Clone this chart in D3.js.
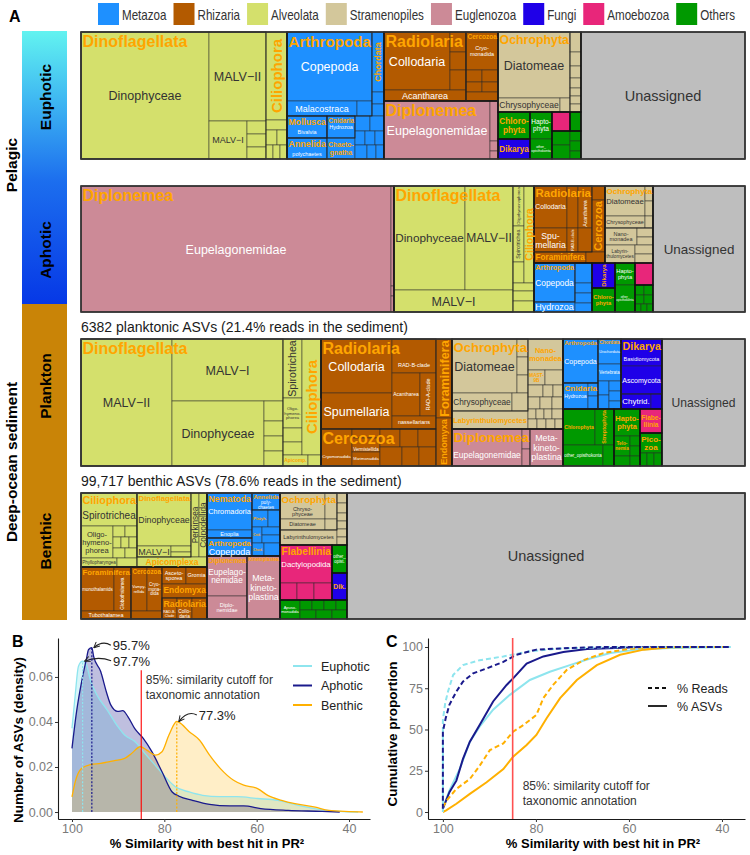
<!DOCTYPE html>
<html><head><meta charset="utf-8">
<script src="https://cdn.jsdelivr.net/npm/d3@7"></script>
<style>body{margin:0;background:#fff}svg{display:block}</style>
</head><body><svg id="c" width="750" height="855"></svg>
<script>
// ---------------- DATA ----------------
const groupNames = ["Metazoa","Rhizaria","Alveolata","Stramenopiles","Euglenozoa","Fungi","Amoebozoa","Others"];
const groupColors = ["#1E90FF","#B35A00","#D4E06C","#D3C79B","#CC8A97","#1F00E8","#E8267A","#009900"];
const unassignedColor = "#BEBEBE";

function L(n, v, k, g){ return {n, value:v, k, g}; }
function N(dir, children, n, k, g){ return {dir, children, n, k, g}; }
function T(...vals){ return vals.map(v => L("", v)); }

// treemap leaves: values = relative read share of each taxon
const euphotic = N('x', [
  N('x', [
    N('x', [
      L("Dinophyceae", 16256, "C"),
      N('y', [ L("MALV−II", 5073, "C"), N('x', [L("MALV−I", 1444, "c"), N('y', T(247,247,228))]) ])
    ], "Dinoflagellata", "P"),
    N('y', [ L("Ciliophora", 1848, "V"), L("", 210), N('x', T(165,150)), N('x', T(98,98,98)) ])
  ], "", null, "Alveolata"),
  N('y', [
    N('x', [
      N('y', [L("Copepoda", 5865, "C"), N('x', [L("Malacostraca", 1050, "c"), L("", 225)])], "Arthropoda", "P"),
      N('y', [L("Chordata", 720, "vO"), ...T(144,144)])
    ]),
    N('x', [
      N('y', [N('y', [L("Bivalvia", 880, "s")], "Mollusca", "P"), N('y', [L("polychaetes", 840, "s")], "Annelida", "P")]),
      N('y', [N('y', [L("Hydrozoa", 616, "s")], "Cnidaria", "P"), L("Chaeto-|gnatha", 588, "O")]),
      N('y', [N('x', T(225,210)), N('x', T(140,140,126)), N('x', T(168,126,112))])
    ])
  ], "", null, "Metazoa"),
  N('x', [
    N('y', [
      N('x', [
        N('y', [N('x', [L("Collodaria", 3828, "C"), N('y', T(320,288,320))]), L("Acantharea", 902, "c")], "Radiolaria", "P"),
        N('y', [L("Cryo-|monadida", 1216, "s"), N('x', T(192,192)), N('x', T(160,160)), L("", 288)], "Cercozoa", "P")
      ], "", null, "Rhizaria"),
      N('x', [L("Eupelagonemidae", 6148, "C"), N('y', T(320,80,64))], "Diplonemea", "P", "Euglenozoa")
    ]),
    N('y', [
      N('x', [
        N('y', [L("Diatomeae", 4752, "C"), N('x', [L("Chrysophyceae", 868, "c"), L("", 140)])], "Ochrophyta", "P"),
        N('y', T(220,154,132,110,88,88,88))
      ], "", null, "Stramenopiles"),
      N('x', [
        N('y', [L("Chloro-|phyta", 864, "O", "Others"), L("Dikarya", 640, "O", "Fungi")]),
        N('y', [L("Hapto-|phyta", 594, "c"), L("other_|opisthokonta", 440, "s")], "", null, "Others"),
        N('y', [
          N('x', [L("", 342, null, "Amoebozoa"), L("", 209, null, "Others")]),
          N('x', [N('y', T(252,252)), N('y', T(110,110,88))], "", null, "Others")
        ])
      ])
    ])
  ]),
  L("Unassigned", 20828, "U", "Unassigned")
]);

const aphotic = N('x', [
  N('x', [L("Eupelagonemidae", 39060, "C"), N('y', T(300,30,48))], "Diplonemea", "P", "Euglenozoa"),
  N('x', [
    N('y', [N('x', [L("Dinophyceae", 7384, "C"), L("MALV−II", 4992, "C")]), L("MALV−I", 2618, "C")], "Dinoflagellata", "P"),
    N('y', [
      N('x', [N('y', [L("Oligohymenophorea", 440, "vs"), L("Spirotrichea", 396, "vs"), L("Colpodea", 231, "s")]), L("Ciliophora", 970, "V")]),
      ...T(168,210,231)
    ])
  ], "", null, "Alveolata"),
  N('y', [
    N('x', [
      N('y', [
        N('x', [
          N('x', [
            N('y', [L("Collodaria", 1386, "c"), L("Spu-|mellaria", 792, "c")]),
            N('y', [L("", 462), L("RAD-B-clade", 264, "vs")]),
            N('y', [L("Acantharea", 588, "vs"), L("nassellarians", 336, "s")])
          ], "Radiolaria", "P"),
          N('y', [L("Cryomonadida", 182, "s"), L("Cercozoa", 676, "V")])
        ]),
        N('x', [L("Foraminifera", 572, "P"), L("", 209)])
      ], "", null, "Rhizaria"),
      N('y', [
        N('y', [N('x', [L("Diatomeae", 1200, "c"), N('y', T(120,120))]), N('x', [L("Chrysophyceae", 480, "s"), L("", 96)])], "Ochrophyta", "P"),
        N('x', [L("Nano-|monadea", 544, "s"), N('y', T(144,128))]),
        N('x', [L("Labyrin-|thulomycetes", 540, "s"), N('y', T(162,162))])
      ], "", null, "Stramenopiles")
    ]),
    N('x', [
      N('x', [N('y', [N('y', [L("Copepoda", 1599, "c")], "Arthropoda", "P"), L("Hydrozoa", 410, "c")]), N('y', T(340,170,170,153))], "", null, "Metazoa"),
      N('y', [L("Dikarya", 575, "V", "Fungi"), L("Chloro-|phyta", 552, "O", "Others")]),
      N('y', [L("Hapto-|phyta", 440, "c"), L("other_|opisthokonta", 540, "s")], "", null, "Others"),
      N('y', [L("", 396, null, "Amoebozoa"), N('y', [N('x', T(90,90)), N('x', T(81,81)), N('x', T(48,48,48))], "", null, "Others")])
    ])
  ]),
  L("Unassigned", 11592, "U", "Unassigned")
]);

const plankton = N('x', [
  N('x', [
    N('x', [
      L("MALV−II", 11557, "C"),
      N('y', [L("MALV−I", 6882, "C"), N('x', [L("Dinophyceae", 5980, "C"), N('y', T(380,285,285,285))])])
    ], "Dinoflagellata", "P"),
    N('y', [
      N('x', [N('y', [L("Spirotrichea", 1121, "v"), L("Oligo-|hymeno-|phorea", 570, "s"), L("", 266), L("", 247)]), L("Ciliophora", 2204, "V")]),
      N('x', [L("Apicomp.", 275, "O"), L("", 143)])
    ])
  ], "", null, "Alveolata"),
  N('x', [
    N('y', [
      N('x', [
        N('y', [L("Collodaria", 3834, "C"), L("Spumellaria", 2556, "C")]),
        N('y', [L("RAD-B-clade", 1496, "s"), N('x', [L("Acantharea", 1204, "s"), L("RAD-A-clade", 688, "vs")]), L("nassellarians", 572, "s")])
      ], "Radiolaria", "P"),
      N('x', [
        L("Cryomonadida", 1147, "s"),
        N('y', [L("", 252), L("Vermistellida", 392, "s"), L("Marimonadida", 392, "s")]),
        N('y', [N('x', T(360,324,324)), N('x', T(418,323,323))])
      ], "Cercozoa", "P")
    ]),
    N('y', [L("Foraminifera", 1264, "V"), L("Endomyxa", 768, "V")])
  ], "", null, "Rhizaria"),
  N('y', [
    N('x', [
      N('y', [
        N('y', [N('x', [L("Diatomeae", 3510, "C"), N('y', T(198,198,198))]), N('x', [L("Chrysophyceae", 1080, "c"), L("", 288)])], "Ochrophyta", "P"),
        L("Labyrinthulomycetes", 1368, "O")
      ]),
      N('y', [L("Nano-|monadea", 1085, "O"), N('x', [L("MAST-|9B", 255, "O"), L("", 270)]), N('x', T(180,120,120)), N('x', T(144,144,132)), N('x', T(80,80,80,110)), N('x', T(90,90,90,80))])
    ], "", null, "Stramenopiles"),
    N('x', [
      N('x', [L("Eupelagonemidae", 2590, "c"), N('y', T(160,136))], "Diplonemea", "P"),
      L("Meta-|kineto-|plastina", 1221, "c")
    ], "", null, "Euglenozoa")
  ]),
  N('y', [
    N('x', [
      N('x', [
        N('y', [N('x', [L("Copepoda", 1540, "c")], "Arthropoda", "P"), N('x', [L("Hydrozoa", 650, "s"), N('y', T(130,130))], "Cnidaria", "P")]),
        N('y', [L("Urochordata", 575, "s"), L("Vertebrata", 391, "s"), N('x', [N('y', T(154,154)), N('y', T(120,120,96))])], "Chordata", "P")
      ], "", null, "Metazoa"),
      N('y', [
        N('y', [L("Basidiomycota", 1107, "s"), L("Ascomycota", 1148, "c")], "Dikarya", "P"),
        N('x', [L("Chytrid.", 450, "c"), L("", 165)])
      ], "", null, "Fungi")
    ]),
    N('x', [
      N('y', [N('x', [L("Chlorophyta", 1152, "O"), L("Streptophyta", 684, "vO")]), N('x', [L("other_opisthokonta", 840, "s"), L("", 231)])], "", null, "Others"),
      N('y', [L("Hapto-|phyta", 702, "O"), N('x', [N('y', [L("Telo-|nemia", 320, "O"), L("", 160)]), N('y', T(100,100,100))])], "", null, "Others"),
      N('y', [L("Flabe-|llinia", 528, "O", "Amoebozoa"), N('y', [L("Pico-|zoa", 440, "O"), N('x', T(91,91,104))], "", null, "Others")])
    ])
  ]),
  L("Unassigned", 10541, "U", "Unassigned")
]);

const benthic = N('x', [
  N('x', [
    N('y', [
      N('x', [
        N('y', [
          L("Spirotrichea", 1848, "C"),
          N('x', [L("Oligo-|hymeno-|phorea", 1024, "c"), N('y', [N('x', T(132,132)), N('x', T(88,88,88)), N('x', T(120,120))])]),
          N('x', [L("Phyllopharyngea", 324, "s"), L("", 180)])
        ], "Ciliophora", "P"),
        N('y', [
          N('x', [
            N('y', [L("Dinophyceae", 2862, "C"), N('x', [L("MALV−I", 374, "c"), N('y', T(120,100))])], "Dinoflagellata", "P"),
            L("Perkinsea", 512, "v"),
            L("Colpodellida", 512, "v")
          ]),
          L("Apicomplexa", 700, "O")
        ])
      ], "", null, "Alveolata"),
      N('x', [
        N('y', [N('x', [L("monothalamids", 1452, "s"), L("Globothalamea", 748, "vs")]), L("Tubothalamea", 400, "s")], "Foraminifera", "P"),
        N('y', [N('x', [L("Vampy-|rellida", 704, "s"), L("Cryo-|mona-|dida", 660, "s")]), L("", 248)], "Cercozoa", "P"),
        N('y', [N('x', [L("Asceto-|sporea", 408, "s"), L("Gromia", 357, "s")]), L("Endomyxa", 630, "P"), N('x', [L("RAD-B-|Clade", 315, "s"), L("Collo-|daria", 315, "s"), L("", 315)], "Radiolaria", "P")])
      ], "", null, "Rhizaria")
    ]),
    N('y', [
      N('x', [
        N('y', [N('y', [L("Chromadoria", 1665, "c"), L("Enoplia", 360, "s")], "Nematoda", "P"), N('y', [L("Copepoda", 810, "c")], "Arthropoda", "P")]),
        N('y', [N('y', [L("poly-|chaetes", 476, "s")], "Annelida", "P"), N('x', [L("Platyh.", 272, "O"), L("", 204)]), N('x', [L("Cnid.", 160, "O"), N('y', T(144,144))]), N('x', [L("Chord.", 156, "O"), L("", 208)])])
      ], "", null, "Metazoa"),
      N('x', [
        N('y', [L("Eupelago-|nemidae", 1600, "c"), L("Diplo-|nemidae", 920, "s")], "Diplonemea", "P"),
        N('y', [L("Meta-|kineto-|plastina", 2079, "c")], "Kinetoplastea", "P")
      ], "", null, "Euglenozoa")
    ]),
    N('y', [
      N('x', [
        N('y', [N('y', [N('x', [L("Chryso-|phyceae", 1170, "s"), L("", 312)]), N('x', [L("Diatomeae", 495, "s"), L("", 132)])], "Ochrophyta", "P"), L("Labyrinthulomycetes", 855, "s")]),
        N('y', [L("abyssal|clade", 100, "s"), ...T(100,80,80,80,80)])
      ], "", null, "Stramenopiles"),
      N('x', [
        N('y', [L("Dactylopodida", 1976, "c"), N('x', T(289,289,306))], "Flabellinia", "P", "Amoebozoa"),
        N('y', [L("other_|opist.", 420, "s", "Others"), L("Dik.", 405, "O", "Fungi")])
      ]),
      N('x', [L("Apuso-|monadida", 380, "s"), N('y', [N('x', T(120,120,120,110)), N('x', T(144,144,135))])], "", null, "Others")
    ])
  ]),
  L("Unassigned", 50148, "U", "Unassigned")
]);

const panelTitles = ["", "", "6382 planktonic ASVs (21.4% reads in the sediment)", "99,717 benthic ASVs (78.6% reads in the sediment)"];

// density of best-hit similarity (panel B)
const densSimEup = [100, 99.3, 98.6, 97.7, 96.9, 96, 94.6, 92.4, 90.1, 88.6, 86.4, 84.2, 82, 79.8, 77.6, 74.6, 71.7, 68, 64.3, 59.8, 55.4, 51, 45.8, 42.1, 38];
const densValEup = [0.0372, 0.052, 0.0648, 0.067, 0.0655, 0.0585, 0.052, 0.0454, 0.038, 0.0342, 0.0313, 0.026, 0.0208, 0.0156, 0.0112, 0.0089, 0.0074, 0.0068, 0.0068, 0.006, 0.0052, 0.003, 0.001, 0.0003, 0];
const densSimAph = [100, 99, 97.9, 96.9, 96.4, 95.7, 95.3, 93.8, 92.5, 91.6, 90.1, 89, 87.9, 86.4, 84.6, 82.7, 80.5, 78.3, 76.8, 73.9, 70.2, 65.8, 62.8, 59.1, 53.2, 45.8, 42];
const densValAph = [0.0283, 0.0447, 0.058, 0.0677, 0.0722, 0.073, 0.069, 0.0625, 0.053, 0.0476, 0.0447, 0.045, 0.0424, 0.037, 0.0328, 0.0268, 0.0179, 0.0089, 0.007, 0.0052, 0.0034, 0.0027, 0.0027, 0.0015, 0.0007, 0.0003, 0];
const densSimBen = [100, 99.3, 97.9, 96, 93.8, 90.8, 88.6, 87.1, 85.2, 83.8, 81.9, 80.5, 79, 77.3, 76.8, 74.6, 72.4, 70.2, 67.9, 65, 62.8, 59.8, 57.6, 54.6, 51.7, 47.3, 44.4, 40, 37];
const densValBen = [0.0067, 0.0134, 0.0194, 0.0211, 0.0216, 0.0228, 0.0238, 0.026, 0.029, 0.0275, 0.0253, 0.0268, 0.0342, 0.0402, 0.0398, 0.0357, 0.032, 0.0253, 0.0194, 0.0141, 0.0119, 0.0104, 0.0074, 0.0052, 0.0037, 0.0022, 0.0007, 0.0002, 0];

// cumulative proportions (panel C)
const cumSimEupReads = [100, 100, 99.5, 98.9, 97.8, 95.7, 92.1, 87, 81.3, 75.5, 65.5, 50, 38.5];
const cumValEupReads = [0, 55.8, 66, 73, 83, 89, 92, 94.3, 97.4, 99, 99.8, 100, 100];
const cumSimAphReads = [100, 100, 99.4, 98.6, 97.1, 95.7, 93.5, 90.6, 87, 84.2, 79.9, 72.7, 65.5, 50, 38.5];
const cumValAphReads = [2, 48.7, 56.8, 65, 73, 79, 84, 87, 91, 95.3, 98.4, 99.4, 100, 100, 100];
const cumSimBenReads = [100, 98.9, 97.1, 94.2, 92.1, 89.9, 87, 84.9, 82.7, 79.9, 78.4, 76.3, 73.4, 69.8, 65.5, 59.7, 51.1, 38.5];
const cumValBenReads = [3, 8, 14, 20, 28, 37.5, 41.6, 48.7, 52.7, 58.8, 69, 77, 86, 92, 96.3, 99, 100, 100];
const cumSimEupASV = [100, 98.6, 96.4, 94.2, 92.1, 89.2, 85.6, 81.3, 77, 72.7, 68.3, 64, 58.3, 51.1, 38.1];
const cumValEupASV = [2, 13, 26, 42.6, 51.7, 62, 71, 80, 85, 89, 93, 96.3, 98.4, 99.4, 100];
const cumSimAphASV = [100, 98.6, 97.1, 95.7, 94.2, 92.1, 89.2, 86.3, 84.9, 82, 78.4, 74.1, 69, 58.3, 50, 38.5];
const cumValAphASV = [2, 12, 19, 32, 42.6, 52.7, 67, 77, 81, 90, 94.3, 97, 98.8, 99.8, 100, 100];
const cumSimBenASV = [100, 99.3, 97.1, 94.2, 90.6, 87, 84.9, 82, 79.9, 77.7, 74.8, 71.2, 66.9, 61.9, 56.8, 51.1, 43.9, 38.5];
const cumValBenASV = [0, 1, 5, 11, 18, 26, 33.5, 40.6, 46.7, 56.8, 69, 80, 89, 95.3, 98.4, 99.8, 100, 100];

const habitatNames = ["Euphotic", "Aphotic", "Benthic"];
const habitatColors = ["#8EE5EE", "#1A1A8C", "#FFB000"];
const simTicks = [100, 80, 60, 40];
const densTicks = [0, 0.02, 0.04, 0.06];
const cumTicks = [0, 25, 50, 75, 100];
const cutoff = 85;

// ---------------- DRAW ----------------
const FONT = '"Liberation Sans", Arial, sans-serif';
const svg = d3.select("#c");
const colorOf = g => g === "Unassigned" ? unassignedColor : groupColors[groupNames.indexOf(g)];
const ctx = document.createElement("canvas").getContext("2d");
function tw(t, bold){ ctx.font = (bold ? "bold " : "") + "100px " + FONT; return ctx.measureText(t).width / 100; }

// "A" and legend (condensed text)
svg.append("text").attr("x", 9).attr("y", 22).attr("font-family", FONT).attr("font-weight", "bold").attr("font-size", 16).text("A");
(function(){
  const sw = 21, gapT = 3, fs = 14.5, sx = 0.8;
  const widths = groupNames.map(n => sw + gapT + tw(n, false) * fs * sx);
  const total = d3.sum(widths), x0 = 98, x1 = 735;
  const gap = (x1 - x0 - total) / (groupNames.length - 1);
  let x = x0;
  const lg = svg.append("g");
  groupNames.forEach((n, i) => {
    lg.append("rect").attr("x", x).attr("y", 3).attr("width", sw).attr("height", 22).attr("fill", groupColors[i]);
    lg.append("text").attr("transform", `translate(${x + sw + gapT},19.5) scale(${sx},1)`)
      .attr("font-family", FONT).attr("font-size", fs).attr("fill", "#333").text(n);
    x += widths[i] + gap;
  });
})();

// side bars
const defs = svg.append("defs");
const grad = defs.append("linearGradient").attr("id", "pel").attr("x1", 0).attr("x2", 0).attr("y1", 0).attr("y2", 1);
[[0, "#62F3F0"], [0.25, "#3FB8F2"], [0.55, "#1C6EEE"], [1, "#0638E6"]].forEach(s => grad.append("stop").attr("offset", s[0]).attr("stop-color", s[1]));
svg.append("rect").attr("x", 22).attr("y", 31).attr("width", 45).attr("height", 273).attr("fill", "url(#pel)");
svg.append("rect").attr("x", 22).attr("y", 304).attr("width", 45).attr("height", 316).attr("fill", "#C98407");
function vlabel(x, y, t, fs){
  svg.append("text").attr("transform", `translate(${x},${y}) rotate(-90)`).attr("text-anchor", "middle")
    .attr("font-family", FONT).attr("font-weight", "bold").attr("font-size", fs).attr("fill", "#000").text(t);
}
vlabel(17, 165, "Pelagic", 15.5);
vlabel(17, 462, "Deep-ocean sediment", 15.5);
vlabel(51, 97, "Euphotic", 15.5);
vlabel(51, 250, "Aphotic", 15.5);
vlabel(51, 386, "Plankton", 15.5);
vlabel(51, 541, "Benthic", 15.5);

// treemaps
const kinds = {
  P: {cap: 16, bold: true, orange: true, tl: true},
  V: {cap: 15, bold: true, orange: true, rot: true},
  vO: {cap: 9, bold: true, orange: true, rot: true},
  O: {cap: 8.5, bold: true, orange: true},
  C: {cap: 12.5}, c: {cap: 9}, s: {cap: 5.5},
  v: {cap: 11, rot: true}, vs: {cap: 5.5, rot: true},
  U: {cap: 14.5}
};
const LH = 1.05;
function groupOf(node){ let n = node; while(n){ if(n.data.g) return n.data.g; n = n.parent; } return "Others"; }
function fitSize(K, lines, wmax, w, h, k){
  let cap = K.cap;
  if (k === "U") cap = Math.min(K.cap, w / (wmax * 1.3));
  return Math.min(cap, (w - 2.5) / wmax, (h - 1) / ((lines.length - 1) * LH + 0.85));
}
function hit(a, b){ return a.x0 < b.x1 && a.x1 > b.x0 && a.y0 < b.y1 && a.y1 > b.y0; }

function drawPanel(tree, x0, y0, W, H, caption){
  const root = d3.hierarchy(tree).sum(d => d.children ? 0 : d.value);
  d3.treemap().size([W, H]).round(false)
    .tile((node, a, b, c, d) => (node.data.dir === 'y' ? d3.treemapSlice : d3.treemapDice)(node, a, b, c, d))(root);
  const g = svg.append("g").attr("transform", `translate(${x0},${y0})`);
  g.selectAll("rect.leaf").data(root.leaves()).join("rect").attr("class", "leaf")
    .attr("x", d => d.x0).attr("y", d => d.y0).attr("width", d => d.x1 - d.x0).attr("height", d => d.y1 - d.y0)
    .attr("fill", d => colorOf(groupOf(d))).attr("stroke", "#2a2a2a").attr("stroke-width", 0.5);
  const framed = root.descendants().filter(d => d.depth > 0 && (d.data.g || (d.data.k === "P" && d.children)));
  g.selectAll("rect.frame").data(framed).join("rect").attr("class", "frame")
    .attr("x", d => d.x0).attr("y", d => d.y0).attr("width", d => d.x1 - d.x0).attr("height", d => d.y1 - d.y0)
    .attr("fill", "none").attr("stroke", d => d.data.g ? "#111" : "#222").attr("stroke-width", d => d.data.g ? 1.2 : 0.8);
  g.append("rect").attr("width", W).attr("height", H).attr("fill", "none").attr("stroke", "#3a3a3a").attr("stroke-width", 1.3);

  const labeled = root.descendants().filter(d => d.data.k && d.data.n);
  const pBoxes = [];
  labeled.filter(d => d.data.k === "P").forEach(d => {
    const K = kinds.P, lines = d.data.n.split("|"), wmax = d3.max(lines, l => tw(l, true));
    const fs = fitSize(K, lines, wmax, d.x1 - d.x0, d.y1 - d.y0, "P");
    if (fs < 2.5) return;
    pBoxes.push({node: d, x0: d.x0, y0: d.y0, x1: d.x0 + 1.5 + wmax * fs, y1: d.y0 + 1 + ((lines.length - 1) * LH + 1.05) * fs});
    const t = g.append("text").attr("font-family", FONT).attr("font-size", fs.toFixed(2)).attr("font-weight", "bold").attr("fill", "#FFA500");
    lines.forEach((l, i) => t.append("tspan").attr("x", d.x0 + 1.5).attr("y", d.y0 + 1 + fs * 0.9 + i * fs * LH).text(l));
  });
  labeled.filter(d => d.data.k !== "P").forEach(d => {
    const K = kinds[d.data.k], lines = d.data.n.split("|"), wmax = d3.max(lines, l => tw(l, K.bold));
    let bx = {x0: d.x0, y0: d.y0, x1: d.x1, y1: d.y1};
    const place = () => {
      let w = bx.x1 - bx.x0, h = bx.y1 - bx.y0;
      if (K.rot) [w, h] = [h, w];
      const fs = fitSize(K, lines, wmax, w, h, d.data.k);
      const hw = wmax * fs / 2, hh = ((lines.length - 1) * LH + 0.85) * fs / 2;
      const cx = (bx.x0 + bx.x1) / 2, cy = (bx.y0 + bx.y1) / 2;
      const box = K.rot ? {x0: cx - hh, x1: cx + hh, y0: cy - hw, y1: cy + hw} : {x0: cx - hw, x1: cx + hw, y0: cy - hh, y1: cy + hh};
      return {fs, cx, cy, box};
    };
    let p = place();
    const clash = pBoxes.find(b => hit(b, p.box));
    if (clash && clash.y1 < d.y1 - 3) { bx.y0 = Math.max(bx.y0, clash.y1); p = place(); }
    if (p.fs < 2.5) return;
    const grp = groupOf(d);
    const dark = grp === "Alveolata" || grp === "Stramenopiles" || grp === "Unassigned";
    const fill = K.orange ? "#FFA500" : (dark ? "#333" : "#fff");
    const t = g.append("text").attr("font-family", FONT).attr("font-size", p.fs.toFixed(2))
      .attr("font-weight", K.bold ? "bold" : "normal").attr("fill", fill).attr("text-anchor", "middle")
      .attr("transform", `translate(${p.cx},${p.cy})` + (K.rot ? " rotate(-90)" : ""));
    const top = -(lines.length - 1) * p.fs * LH / 2 + p.fs * 0.36;
    lines.forEach((l, i) => t.append("tspan").attr("x", 0).attr("y", top + i * p.fs * LH).text(l));
  });
  if (caption) svg.append("text").attr("x", x0).attr("y", y0 - 7).attr("font-family", FONT).attr("font-size", 14).attr("fill", "#1a1a1a").text(caption);
}
drawPanel(euphotic, 81, 32, 664, 127, panelTitles[0]);
drawPanel(aphotic, 81, 186, 664, 126, panelTitles[1]);
drawPanel(plankton, 81, 339, 664, 127, panelTitles[2]);
drawPanel(benthic, 81, 493, 664, 126, panelTitles[3]);

// ---------- panel B ----------
function styleAxis(sel){
  sel.select(".domain").attr("stroke", "#1a1a1a").attr("stroke-width", 1.1);
  sel.selectAll(".tick line").attr("stroke", "#333");
  sel.selectAll(".tick text").attr("fill", "#7a7a7a").attr("font-size", 12.5).attr("font-family", FONT);
}
const xB = d3.scaleLinear().domain([103.03, 35.45]).range([58, 370]);
const yB = d3.scaleLinear().domain([-0.0031, 0.0773]).range([819, 638]);
const gB = svg.append("g");
const densSeries = [
  {sim: densSimEup, val: densValEup},
  {sim: densSimAph, val: densValAph},
  {sim: densSimBen, val: densValBen}
];
const area = d3.area().x(d => xB(d[0])).y0(yB(0)).y1(d => yB(d[1])).curve(d3.curveMonotoneX);
const lineB = d3.line().x(d => xB(d[0])).y(d => yB(d[1])).curve(d3.curveMonotoneX);
const fillOp = [0.35, 0.28, 0.22];
densSeries.forEach((s, i) => {
  const pts = s.sim.map((x, j) => [x, s.val[j]]);
  gB.append("path").attr("d", area(pts)).attr("fill", habitatColors[i]).attr("fill-opacity", fillOp[i]);
});
densSeries.forEach((s, i) => {
  const pts = s.sim.map((x, j) => [x, s.val[j]]);
  gB.append("path").attr("d", lineB(pts)).attr("fill", "none").attr("stroke", habitatColors[i]).attr("stroke-width", 1.3);
});
defs.append("marker").attr("id", "arr").attr("viewBox", "0 0 10 10").attr("refX", 9).attr("refY", 5)
  .attr("markerWidth", 7).attr("markerHeight", 7).attr("orient", "auto").attr("markerUnits", "userSpaceOnUse")
  .append("path").attr("d", "M1,1 L9,5 L1,9").attr("fill", "none").attr("stroke", "#222").attr("stroke-width", 1.4);
const labOff = [[30.5, 4.5], [21, 2.5], [22, -1.5]];
densSeries.forEach((s, i) => {
  const j = d3.maxIndex(s.val);
  const px = xB(s.sim[j]), py = yB(s.val[j]);
  gB.append("line").attr("x1", px).attr("x2", px).attr("y1", yB(0)).attr("y2", py)
    .attr("stroke", habitatColors[i]).attr("stroke-width", 1.2).attr("stroke-dasharray", "2,1.6");
  const tx = px + labOff[i][0], ty = py + labOff[i][1];
  const sx = tx - 2, sy = ty - 5, ex = px + 2, ey = py;
  gB.append("path").attr("d", `M${sx},${sy} Q${(sx + ex) / 2},${Math.min(sy, ey) - 5} ${ex},${ey}`)
    .attr("fill", "none").attr("stroke", "#222").attr("stroke-width", 1.2).attr("marker-end", "url(#arr)");
  gB.append("text").attr("x", tx).attr("y", ty).attr("font-family", FONT).attr("font-size", 13).attr("fill", "#222")
    .text(d3.format(".1f")(s.sim[j]) + "%");
});
gB.append("line").attr("x1", xB(cutoff)).attr("x2", xB(cutoff)).attr("y1", 819).attr("y2", yB(0.063)).attr("stroke", "#FF0000").attr("stroke-width", 1.1);
gB.append("text").attr("font-family", FONT).attr("font-size", 12).attr("fill", "#333")
  .selectAll("tspan").data(["85%: similarity cutoff for", "taxonomic annotation"]).join("tspan")
  .attr("x", xB(cutoff) + 4.5).attr("y", (d, i) => 684 + i * 15).text(d => d);
gB.append("g").attr("transform", "translate(0,819)")
  .call(d3.axisBottom(xB).tickValues(simTicks).tickSize(3).tickSizeOuter(0).tickPadding(2)).call(styleAxis);
gB.append("g").attr("transform", "translate(58,0)")
  .call(d3.axisLeft(yB).tickValues(densTicks).tickFormat(d3.format(".2f")).tickSize(3).tickSizeOuter(0).tickPadding(2)).call(styleAxis);
habitatNames.forEach((n, i) => {
  const y = 666 + i * 19.5;
  gB.append("line").attr("x1", 293).attr("x2", 312).attr("y1", y).attr("y2", y).attr("stroke", habitatColors[i]).attr("stroke-width", 2);
  gB.append("text").attr("x", 321).attr("y", y + 4.5).attr("font-family", FONT).attr("font-size", 12.5).attr("fill", "#222").text(n);
});
svg.append("text").attr("x", 12).attr("y", 647).attr("font-family", FONT).attr("font-weight", "bold").attr("font-size", 16).text("B");
vlabel(23, 740, "Number of ASVs (density)", 13.5);
svg.append("text").attr("x", 207).attr("y", 848).attr("text-anchor", "middle").attr("font-family", FONT).attr("font-weight", "bold").attr("font-size", 13).text("% Similarity with best hit in PR²");

// ---------- panel C ----------
const xC = d3.scaleLinear().domain([103.2, 35.05]).range([428, 745]);
const yC = d3.scaleLinear().domain([-4.24, 105.45]).range([819, 638]);
const gC = svg.append("g");
const lineC = d3.line().x(d => xC(d[0])).y(d => yC(d[1]));
const cumSeries = [
  {sim: cumSimEupASV, val: cumValEupASV, c: 0, dash: false},
  {sim: cumSimBenASV, val: cumValBenASV, c: 2, dash: false},
  {sim: cumSimAphASV, val: cumValAphASV, c: 1, dash: false},
  {sim: cumSimBenReads, val: cumValBenReads, c: 2, dash: true},
  {sim: cumSimEupReads, val: cumValEupReads, c: 0, dash: true},
  {sim: cumSimAphReads, val: cumValAphReads, c: 1, dash: true}
];
cumSeries.forEach(s => {
  const pts = s.sim.map((x, j) => [x, s.val[j]]);
  gC.append("path").attr("d", lineC(pts)).attr("fill", "none").attr("stroke", habitatColors[s.c])
    .attr("stroke-width", 2).attr("stroke-dasharray", s.dash ? "5,3" : null);
});
gC.append("line").attr("x1", xC(cutoff)).attr("x2", xC(cutoff)).attr("y1", 638).attr("y2", 819).attr("stroke", "#FF5050").attr("stroke-width", 1.6);
gC.append("text").attr("font-family", FONT).attr("font-size", 12).attr("fill", "#333")
  .selectAll("tspan").data(["85%: similarity cutoff for", "taxonomic annotation"]).join("tspan")
  .attr("x", xC(cutoff) + 10).attr("y", (d, i) => 790 + i * 15).text(d => d);
gC.append("g").attr("transform", "translate(0,819)")
  .call(d3.axisBottom(xC).tickValues(simTicks).tickSize(3).tickSizeOuter(0).tickPadding(2)).call(styleAxis);
gC.append("g").attr("transform", "translate(428,0)")
  .call(d3.axisLeft(yC).tickValues(cumTicks).tickSize(3).tickSizeOuter(0).tickPadding(2)).call(styleAxis);
[["% Reads", true], ["% ASVs", false]].forEach((d, i) => {
  const y = 688 + i * 18;
  gC.append("line").attr("x1", 648).attr("x2", 667).attr("y1", y).attr("y2", y).attr("stroke", "#111").attr("stroke-width", 1.8).attr("stroke-dasharray", d[1] ? "4,3" : null);
  gC.append("text").attr("x", 677).attr("y", y + 4.5).attr("font-family", FONT).attr("font-size", 12.5).attr("fill", "#222").text(d[0]);
});
svg.append("text").attr("x", 386).attr("y", 647).attr("font-family", FONT).attr("font-weight", "bold").attr("font-size", 16).text("C");
vlabel(397, 734, "Cumulative proportion", 13.5);
svg.append("text").attr("x", 603).attr("y", 848).attr("text-anchor", "middle").attr("font-family", FONT).attr("font-weight", "bold").attr("font-size", 13).text("% Similarity with best hit in PR²");
</script></body></html>
